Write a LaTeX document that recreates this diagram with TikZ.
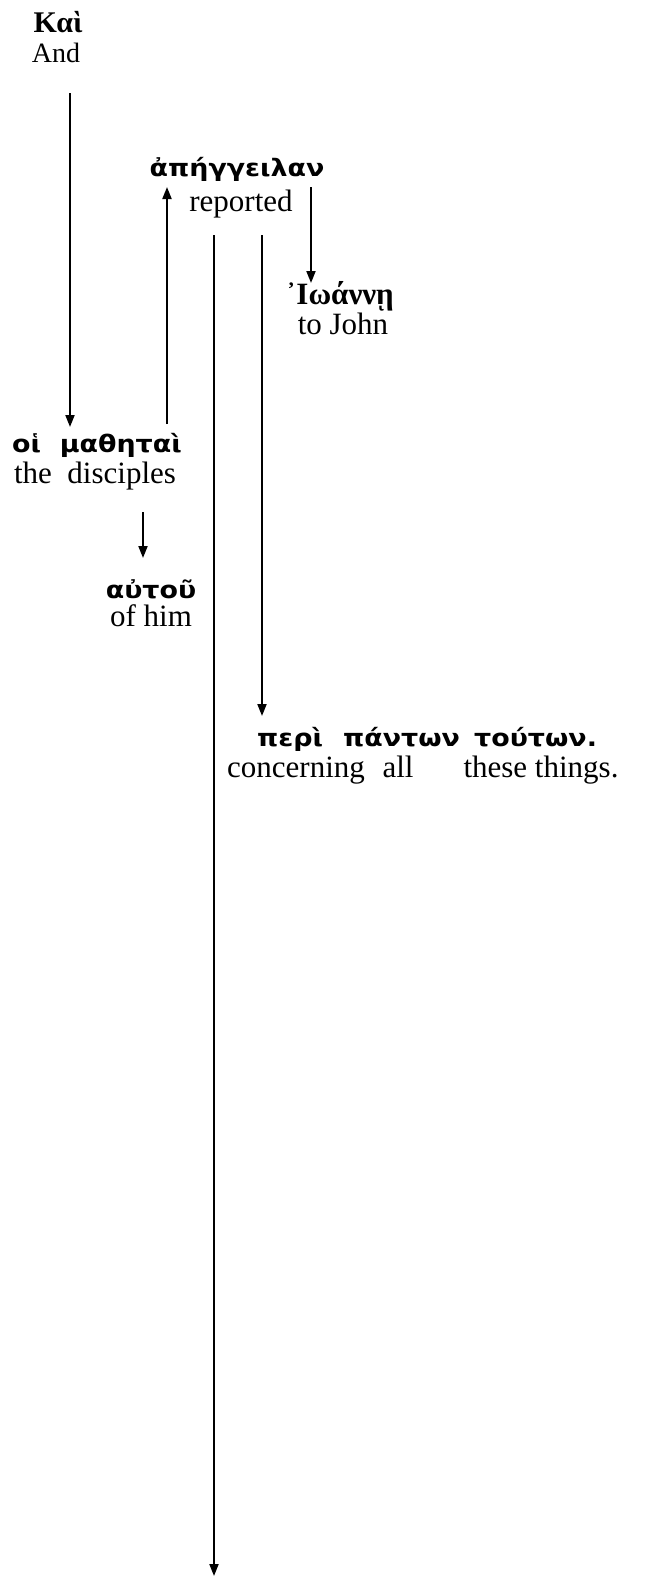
\documentclass[tikz,border=0pt]{standalone}
\usepackage{fontspec}
\setmainfont{Liberation Serif}
\newfontfamily\grsans{DejaVu Sans}[FakeStretch=1.12]
\newfontfamily\grserif{Liberation Serif}
\usetikzlibrary{arrows.meta}
\tikzset{
  gk/.style={anchor=base, inner sep=0pt, font=\grsans\bfseries\fontsize{24}{24}\selectfont},
  gkserif/.style={anchor=base, inner sep=0pt, font=\grserif\bfseries\fontsize{31}{31}\selectfont},
  en/.style={anchor=base, inner sep=0pt, font=\fontsize{31}{31}\selectfont},
  link/.style={line width=1.9pt, -{Triangle[length=12pt,width=9pt]}},
}
\begin{document}
\begin{tikzpicture}[x=1pt,y=-1pt]
\useasboundingbox (0,0) rectangle (655,1577);

% words: Greek line with its English gloss below
\node[gkserif, font=\grserif\bfseries\fontsize{30}{30}\selectfont] (kai) at (58,32) {Καὶ};
\node[en, font=\fontsize{28}{28}\selectfont] (kaiE) at (56,62) {And};

\node[gk] (aph)  at (237,176) {ἀπήγγειλαν};
\node[en] (aphE) at (241,211) {reported};

\node[gkserif] (iwa)  at (340,304) {᾿Ιωάννῃ};
\node[en]      (iwaE) at (343,334) {to John};

\node[gk] (mat)  at (97,452) {οἱ\ \ μαθηταὶ};
\node[en] (matE) at (95,483) {the\ \ disciples};

\node[gk] (aut)  at (151,598) {αὐτοῦ};
\node[en] (autE) at (151,626) {of him};

\node[gk, anchor=base west] (peri)  at (257,746) {περὶ};
\node[gk, anchor=base west] (pant)  at (343,746) {πάντων};
\node[gk, anchor=base west] (tout)  at (474,746) {τούτων.};
\node[en] (periE) at (296,777) {concerning};
\node[en] (pantE) at (398,777) {all};
\node[en] (toutE) at (541,777) {these things.};

% connector ends
\coordinate (a1s) at (70,93);   \coordinate (a1e) at (70,427);
\coordinate (a2s) at (167,424); \coordinate (a2e) at (167,187);
\coordinate (a3s) at (311,187); \coordinate (a3e) at (311,283);
\coordinate (a4s) at (143,512); \coordinate (a4e) at (143,558);
\coordinate (a5s) at (262,235); \coordinate (a5e) at (262,716);
\coordinate (a6s) at (214,235); \coordinate (a6e) at (214,1576);

\draw[link] (a1s) -- (a1e);
\draw[link] (a2s) -- (a2e);
\draw[link] (a3s) -- (a3e);
\draw[link] (a4s) -- (a4e);
\draw[link] (a5s) -- (a5e);
\draw[link] (a6s) -- (a6e);
\end{tikzpicture}
\end{document}
